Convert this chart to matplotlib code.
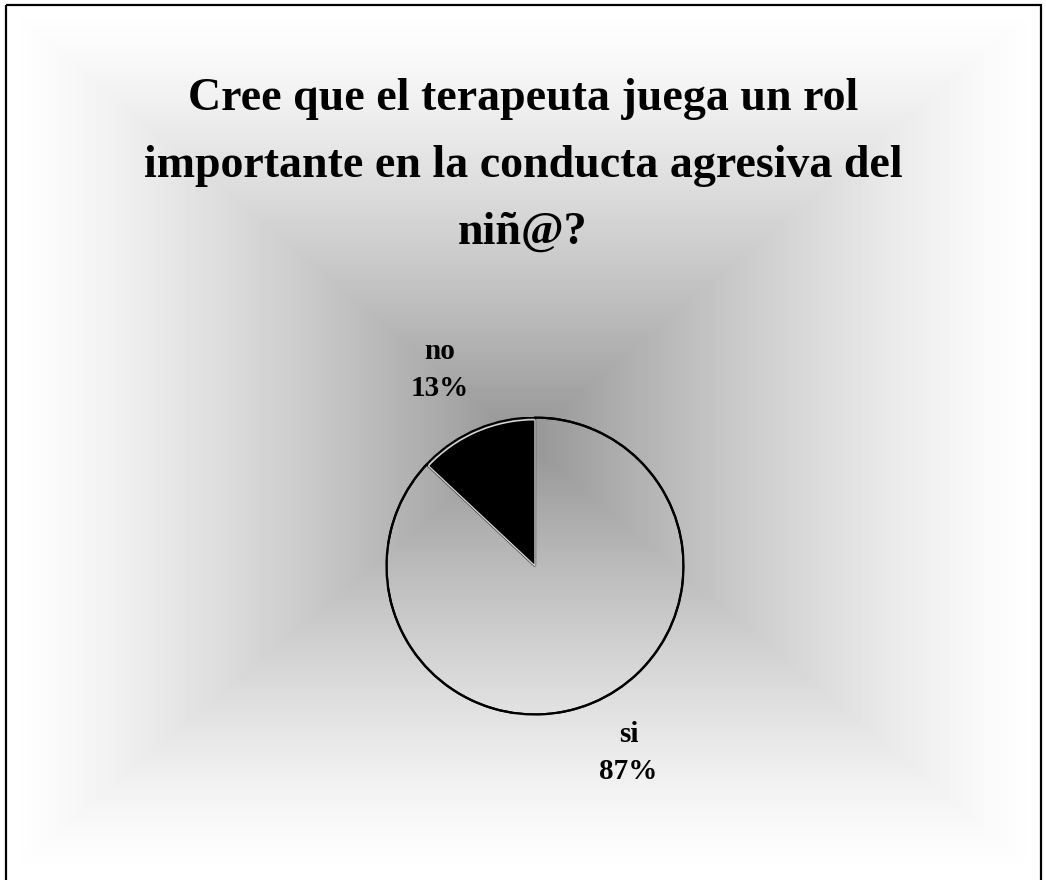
import numpy as np
import matplotlib.pyplot as plt
from matplotlib.patches import Rectangle, Circle

# data
categorias = ['si', 'no']
valores = [87, 13]
colores = ['none', 'black']
titulo = 'Cree que el terapeuta juega un rol\nimportante en la conducta agresiva del\nniñ@?'

W, H = 1046, 880
fig = plt.figure(figsize=(W / 100, H / 100), dpi=100)
fig.patch.set_facecolor('white')

# background: rectangular gradient, dark in the middle, white at the edges
bg = fig.add_axes([0, 0, 1, 1], zorder=0)
bg.set_xlim(0, W)
bg.set_ylim(H, 0)
bg.axis('off')
x0, x1, y0, y1 = 6, 1040, 6, 875
cx, cy = (x0 + x1) / 2, (y0 + y1) / 2
xs = np.arange(x0, x1) + 0.5
ys = np.arange(y0, y1) + 0.5
X, Y = np.meshgrid(xs, ys)
t = np.maximum(np.abs(X - cx) / (cx - x0), np.abs(Y - cy) / (cy - y0))
c0 = 0.58
g = 1 - (1 - c0) * (1 - t) ** 1.3
bg.imshow(g, cmap='gray', vmin=0, vmax=1, extent=(x0, x1, y1, y0),
          interpolation='bilinear', aspect='auto')
bg.add_patch(Rectangle((5.5, 5.5), 1035, 900, fill=False, edgecolor='black',
                       linewidth=1.6, clip_on=False))

fig.text(0.5, 1 - 166 / H, titulo, ha='center', va='center',
         fontsize=33, fontweight='bold', family='Liberation Serif',
         linespacing=1.78)

# pie
pcx, pcy, r = 535, 566, 148.5
ax = fig.add_axes([(pcx - r) / W, (H - pcy - r) / H, 2 * r / W, 2 * r / H], zorder=1)
etiquetas = [f'{c}\n{v}%' for c, v in zip(categorias, valores)]
wedges, texts = ax.pie(valores, labels=etiquetas, colors=colores, startangle=90,
                       counterclock=False, labeldistance=1.43,
                       wedgeprops=dict(edgecolor='black', linewidth=1.6),
                       textprops=dict(fontsize=21, fontweight='bold',
                                      family='Liberation Serif', linespacing=1.5,
                                      ha='center', va='center'))
# label placement as in the original (slightly off the bisector)
texts[0].set_position((0.63, -1.26))
texts[1].set_position((-0.64, 1.32))
wedges[1].set_radius(0.985)
wedges[1].set_edgecolor('#d8d8d8')
wedges[1].set_linewidth(1.0)
ax.add_patch(Circle((0, 0), 1, fill=False, edgecolor='black', linewidth=1.6))
ax.set_xlim(-1, 1)
ax.set_ylim(-1, 1)
ax.set_aspect('equal')
ax.axis('off')

fig.savefig('out.png', dpi=100)
